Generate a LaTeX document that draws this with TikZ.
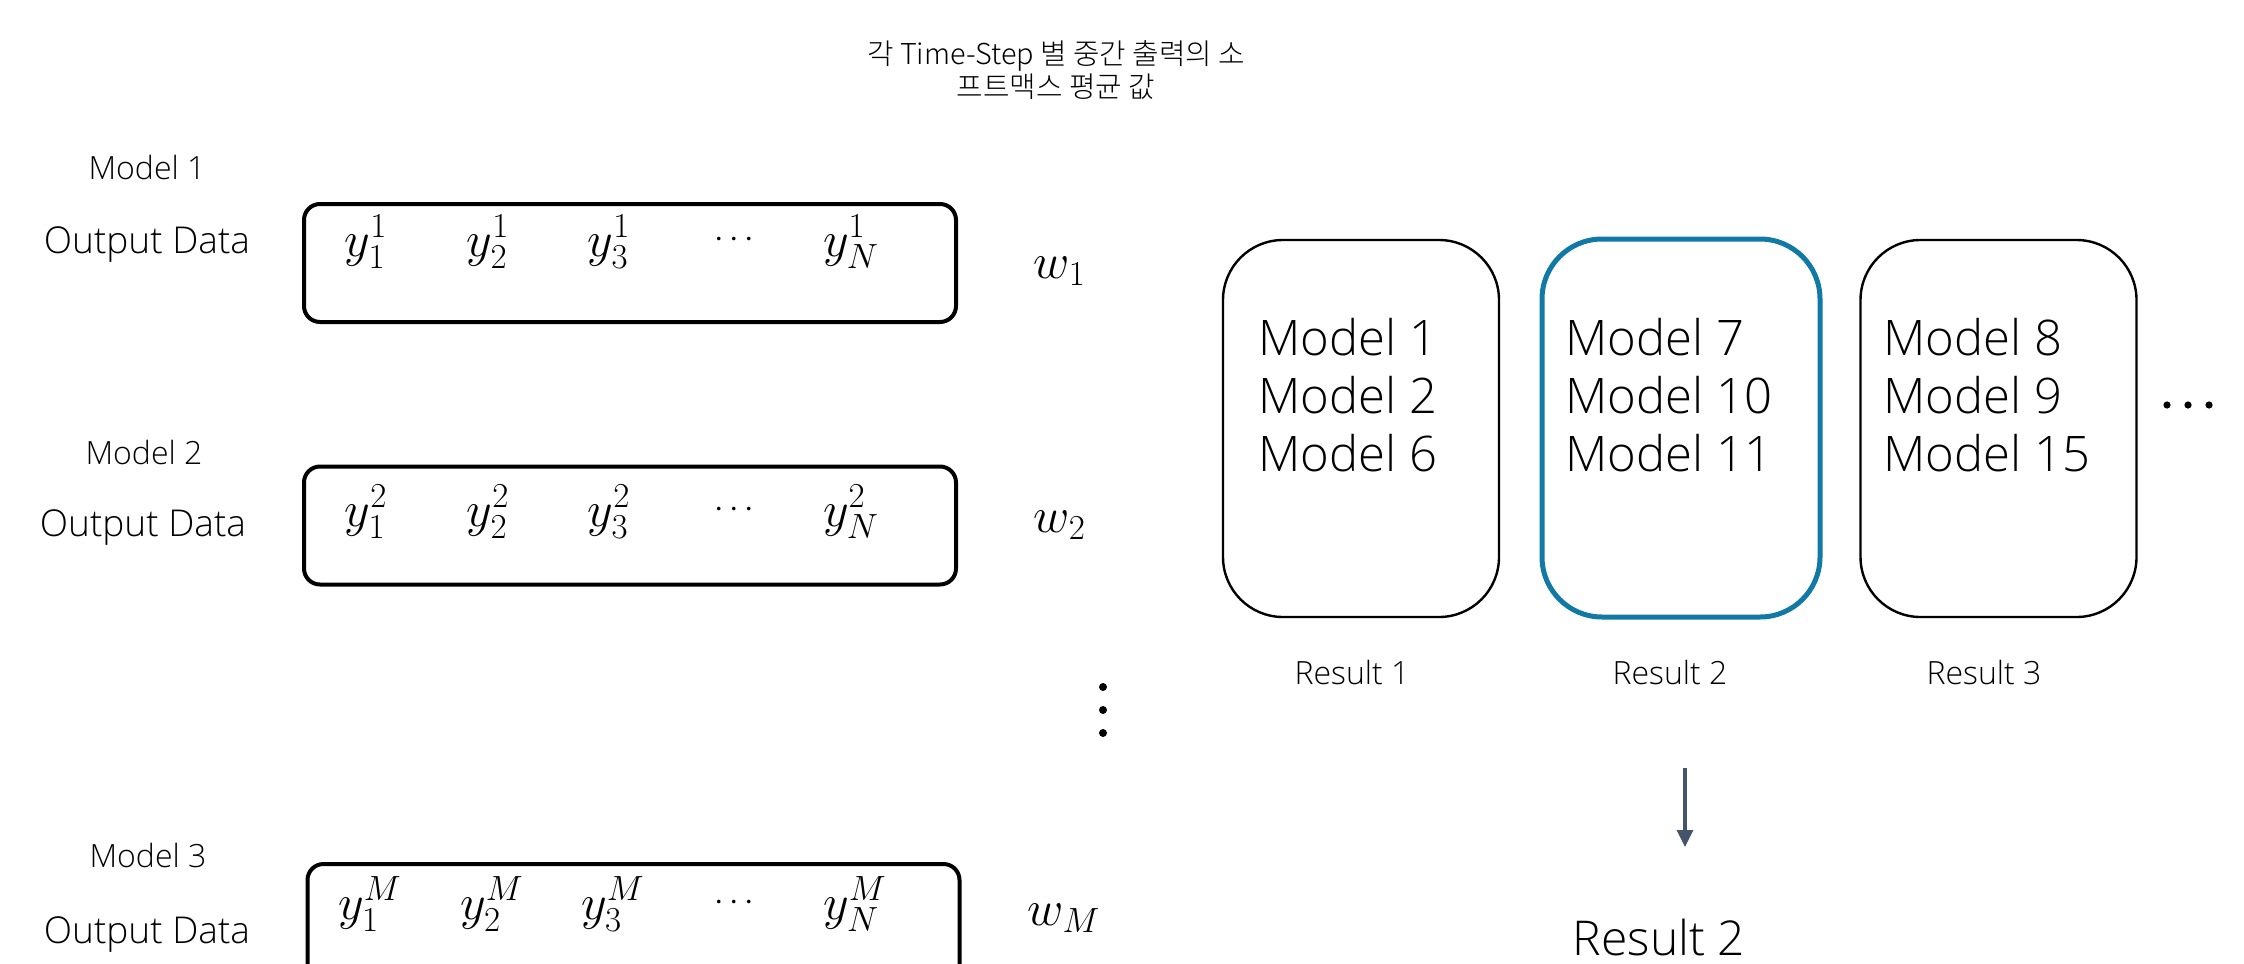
\RequirePackage{fix-cm}
\documentclass[tikz,border=0pt]{standalone}
\usepackage{fontspec}
\setmainfont{Open Sans Light}
\newfontfamily\kr{Noto Sans CJK KR Light}
\usetikzlibrary{arrows.meta}
\definecolor{hlblue}{RGB}{17,121,166}
\definecolor{arrowgray}{RGB}{68,84,106}
\begin{document}
\begin{tikzpicture}[x=0.5pt,y=-0.5pt,
  mlbl/.style={font=\fontsize{16}{19}\selectfont, inner sep=0pt},
  outlbl/.style={font=\fontsize{18.5}{22}\selectfont, inner sep=0pt},
  databox/.style={draw, line width=2pt, rounded corners=8pt, minimum width=326pt, minimum height=59pt, inner sep=0pt},
  ent/.style={font=\fontsize{25}{28}\selectfont, anchor=base, inner sep=0pt},
  dts/.style={font=\fontsize{17}{20}\selectfont, anchor=base, inner sep=0pt},
  resbox/.style={draw, line width=1.2pt, rounded corners=30pt, minimum width=138pt, minimum height=188.5pt, inner sep=0pt},
  boxtxt/.style={font=\fontsize{24.5}{29}\selectfont, align=left, anchor=west, inner sep=0pt},
  reslbl/.style={font=\fontsize{16}{19}\selectfont, inner sep=0pt},
  dotmark/.style={circle, fill=black, draw=none, inner sep=0pt, minimum size=4pt}]
\useasboundingbox (0,0) rectangle (2244,964);
\clip (0,0) rectangle (2244,964);

% caption
\node[font=\kr\fontsize{14.4}{15}\selectfont, align=center, inner sep=0pt] (cap) at (1056,70)
  {각 Time-Step 별 중간 출력의 소\\프트맥스 평균 값};

% left: model 1
\node[mlbl] (m1) at (147,167) {Model 1};
\node[outlbl] (o1) at (147,245) {Output Data};
\node[databox] (b1) at (630,263) {};
\node[ent] (e11) at (366,256) {$y^1_1$};
\node[ent] (e12) at (488,256) {$y^1_2$};
\node[ent] (e13) at (609,256) {$y^1_3$};
\node[dts] (e14) at (734,247) {$\cdots$};
\node[ent] (e15) at (851,256) {$y^1_N$};
\node[ent] (w1) at (1060,278) {$w_1$};

% model 2
\node[mlbl] (m2) at (144,452) {Model 2};
\node[outlbl] (o2) at (143,528) {Output Data};
\node[databox] (b2) at (630,525.5) {};
\node[ent] (e21) at (366,526) {$y^2_1$};
\node[ent] (e22) at (488,526) {$y^2_2$};
\node[ent] (e23) at (609,526) {$y^2_3$};
\node[dts] (e24) at (734,517) {$\cdots$};
\node[ent] (e25) at (851,526) {$y^2_N$};
\node[ent] (w2) at (1060,532) {$w_2$};

% vertical dots
\node[dotmark] (vd1) at (1103,687) {};
\node[dotmark] (vd2) at (1103,710) {};
\node[dotmark] (vd3) at (1103,733) {};

% model 3
\node[mlbl] (m3) at (148,855) {Model 3};
\node[outlbl] (o3) at (147,935) {Output Data};
\node[databox] (b3) at (633.5,923) {};
\node[ent] (e31) at (370,919) {$y^M_1$};
\node[ent] (e32) at (492,919) {$y^M_2$};
\node[ent] (e33) at (613,919) {$y^M_3$};
\node[dts] (e34) at (734,910) {$\cdots$};
\node[ent] (e35) at (855,919) {$y^M_N$};
\node[ent] (wM) at (1064,925) {$w_M$};

% right: result boxes
\node[resbox] (r1) at (1361,428.5) {};
\node[resbox, draw=hlblue, line width=2.5pt, minimum width=139pt, minimum height=189pt] (r2) at (1681,428) {};
\node[resbox] (r3) at (1998.5,428.5) {};
\node[boxtxt] (t1) at (1258,395) {Model 1\\Model 2\\Model 6};
\node[boxtxt] (t2) at (1565,395) {Model 7\\Model 10\\Model 11};
\node[boxtxt] (t3) at (1883,395) {Model 8\\Model 9\\Model 15};

% horizontal dots
\node[dotmark, minimum size=3.6pt] (hd1) at (2167,405) {};
\node[dotmark, minimum size=3.6pt] (hd2) at (2188,405) {};
\node[dotmark, minimum size=3.6pt] (hd3) at (2209,405) {};

\node[reslbl] (rl1) at (1352,672) {Result 1};
\node[reslbl] (rl2) at (1670,672) {Result 2};
\node[reslbl] (rl3) at (1984,672) {Result 3};

% arrow and final result
\coordinate (atop) at (1685,768);
\coordinate (abot) at (1685,847);
\draw[arrowgray, line width=1.6pt, -{Triangle[length=8.5pt,width=8pt]}] (atop) -- (abot);
\node[font=\fontsize{24}{28}\selectfont, inner sep=0pt] (final) at (1659,937) {Result 2};
\end{tikzpicture}
\end{document}
